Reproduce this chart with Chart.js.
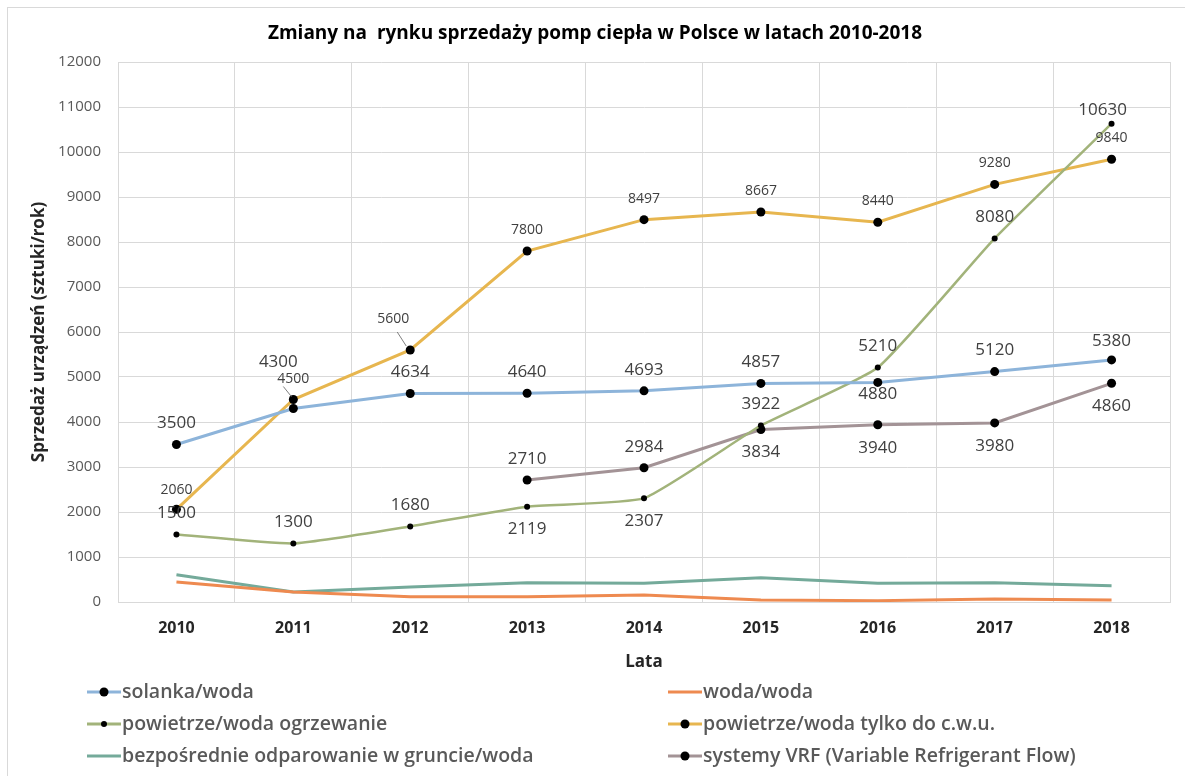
<!DOCTYPE html>
<html>
<head>
<meta charset="utf-8">
<script src="https://cdn.jsdelivr.net/npm/chart.js@4.4.0/dist/chart.umd.min.js"></script>
<style>
  html, body { margin: 0; padding: 0; background: #fff; }
</style>
</head>
<body>
<canvas id="heatPumpChart" width="1185" height="776"></canvas>
<script>
// ==========================
// DATA
// ==========================
const years = ["2010", "2011", "2012", "2013", "2014", "2015", "2016", "2017", "2018"];
const solankaWoda = [3500, 4300, 4634, 4640, 4693, 4857, 4880, 5120, 5380];
const wodaWoda = [444, 222, 118, 118, 155, 44, 30, 67, 44];
const powietrzeOgrzewanie = [1500, 1300, 1680, 2119, 2307, 3922, 5210, 8080, 10630];
const powietrzeCwu = [2060, 4500, 5600, 7800, 8497, 8667, 8440, 9280, 9840];
const bezposrednie = [607, 222, 333, 430, 415, 540, 415, 430, 363];
const systemyVrf = [null, null, null, 2710, 2984, 3834, 3940, 3980, 4860];
const yTicks = { min: 0, max: 12000, step: 1000 };

// ==========================
// LABEL PLACEMENT (offsets from the point, px)
// ==========================
const UP = [0, -21], DOWN = [0, 23];
const solankaLabelPos = [UP, [-15, -46], UP, UP, UP, UP, [0, 12], UP, [0, -19]];
const ogrzewanieLabelPos = [UP, UP, UP, DOWN, DOWN, UP, UP, UP, [-9, -13]];
const cwuLabelPos = [[0, -19], [0, -20], [-17, -31], UP, UP, UP, UP, UP, UP];
const cwuLeaders = { 1: [[-10, -13], [-2, -3]], 2: [[-13, -18], [-4, -4]] };
const vrfLabelPos = [null, null, null, UP, UP, DOWN, DOWN, DOWN, DOWN];

const FONT = "'Open Sans', 'DejaVu Sans', sans-serif";

// ==========================
// PLUGINS
// ==========================
const frame = {
  id: "frame",
  beforeDraw(chart) {
    const ctx = chart.ctx;
    ctx.save();
    ctx.fillStyle = "#fff";
    ctx.fillRect(0, 0, chart.width, chart.height);
    ctx.strokeStyle = "#d9d9d9";
    ctx.lineWidth = 1;
    ctx.strokeRect(7.5, 7.5, chart.width + 20, chart.height + 20);
    ctx.restore();
  }
};

const valueLabels = {
  id: "valueLabels",
  afterDatasetsDraw(chart) {
    const ctx = chart.ctx;
    chart.data.datasets.forEach((ds, i) => {
      const lab = ds.valueLabels;
      if (!lab) return;
      const meta = chart.getDatasetMeta(i);
      meta.data.forEach((pt, j) => {
        const v = ds.data[j];
        if (v == null) return;
        const off = lab.pos[j] || UP;
        ctx.save();
        ctx.font = lab.size + "px " + FONT;
        ctx.fillStyle = "#404040";
        ctx.textAlign = "center";
        ctx.textBaseline = "middle";
        ctx.fillText(String(v), pt.x + off[0], pt.y + off[1]);
        const lead = lab.leaders && lab.leaders[j];
        if (lead) {
          ctx.strokeStyle = "#7f7f7f";
          ctx.lineWidth = 1;
          ctx.beginPath();
          ctx.moveTo(pt.x + lead[0][0], pt.y + lead[0][1]);
          ctx.lineTo(pt.x + lead[1][0], pt.y + lead[1][1]);
          ctx.stroke();
        }
        ctx.restore();
      });
    });
  }
};

const twoColumnLegend = {
  id: "twoColumnLegend",
  afterDraw(chart) {
    const ctx = chart.ctx;
    const colX = [87, 668];
    const rowY = [692, 724, 756];
    ctx.save();
    chart.data.datasets.forEach((ds, i) => {
      const x = colX[i % 2];
      const y = rowY[Math.floor(i / 2)];
      ctx.strokeStyle = ds.borderColor;
      ctx.lineWidth = 3;
      ctx.beginPath();
      ctx.moveTo(x, y);
      ctx.lineTo(x + 34, y);
      ctx.stroke();
      if (ds.pointRadius > 0) {
        ctx.fillStyle = "#000";
        ctx.beginPath();
        ctx.arc(x + 17, y, ds.pointRadius, 0, Math.PI * 2);
        ctx.fill();
      }
      ctx.fillStyle = "#595959";
      ctx.font = "600 19.5px " + FONT;
      ctx.textAlign = "left";
      ctx.textBaseline = "middle";
      ctx.fillText(ds.label, x + 35, y);
    });
    ctx.restore();
  }
};

// ==========================
// CHART
// ==========================
function series(label, data, color, radius, extra) {
  return Object.assign({
    label: label,
    data: data,
    borderColor: color,
    backgroundColor: color,
    borderWidth: 3,
    pointRadius: radius,
    pointBackgroundColor: "#000",
    pointBorderColor: "#000",
    pointBorderWidth: 0,
    tension: 0,
    spanGaps: false
  }, extra || {});
}

const ctx = document.getElementById("heatPumpChart").getContext("2d");

new Chart(ctx, {
  type: "line",
  data: {
    labels: years,
    datasets: [
      series("solanka/woda", solankaWoda, "#8db4da", 4.5, { valueLabels: { size: 17, pos: solankaLabelPos } }),
      series("woda/woda", wodaWoda, "#ee8a50", 0),
      series("powietrze/woda ogrzewanie", powietrzeOgrzewanie, "#a2b37a", 3,
        { borderWidth: 2.5, tension: 0.15, valueLabels: { size: 17, pos: ogrzewanieLabelPos } }),
      series("powietrze/woda tylko do c.w.u.", powietrzeCwu, "#e7b64f", 4.5,
        { valueLabels: { size: 14, pos: cwuLabelPos, leaders: cwuLeaders } }),
      series("bezpośrednie odparowanie w gruncie/woda", bezposrednie, "#74aa9a", 0),
      series("systemy VRF (Variable Refrigerant Flow)", systemyVrf, "#a39396", 4.5,
        { valueLabels: { size: 17, pos: vrfLabelPos } })
    ]
  },
  options: {
    responsive: false,
    animation: false,
    events: [],
    layout: { padding: { left: 20, right: 15, top: 13, bottom: 100.4 } },
    plugins: {
      legend: { display: false },
      tooltip: { enabled: false },
      title: {
        display: true,
        text: "Zmiany na  rynku sprzedaży pomp ciepła w Polsce w latach 2010-2018",
        color: "#000",
        font: { family: FONT, size: 19, weight: "bold" },
        padding: { top: 9, bottom: 17.2 }
      }
    },
    scales: {
      x: {
        offset: true,
        grid: { offset: true, color: "#d9d9d9", drawTicks: false },
        border: { color: "#d9d9d9" },
        ticks: { color: "#262626", padding: 17, font: { family: FONT, size: 16, weight: "bold" } },
        title: {
          display: true,
          text: "Lata",
          color: "#262626",
          font: { family: FONT, size: 17, weight: "bold" },
          padding: { top: 4, bottom: 3.4 }
        },
        afterFit(scale) { scale.height = 73.6; }
      },
      y: {
        min: yTicks.min,
        max: yTicks.max,
        grid: { color: "#d9d9d9", drawTicks: false },
        border: { color: "#d9d9d9" },
        ticks: {
          stepSize: yTicks.step,
          color: "#595959",
          padding: 17,
          font: { family: FONT, size: 15 },
          callback: v => String(v)
        },
        title: {
          display: true,
          text: "Sprzedaż urządzeń (sztuki/rok)",
          color: "#262626",
          font: { family: FONT, size: 17, weight: "bold" },
          padding: { top: 9, bottom: 4 }
        },
        afterFit(scale) { scale.width = 98; }
      }
    }
  },
  plugins: [frame, valueLabels, twoColumnLegend]
});
</script>
</body>
</html>
